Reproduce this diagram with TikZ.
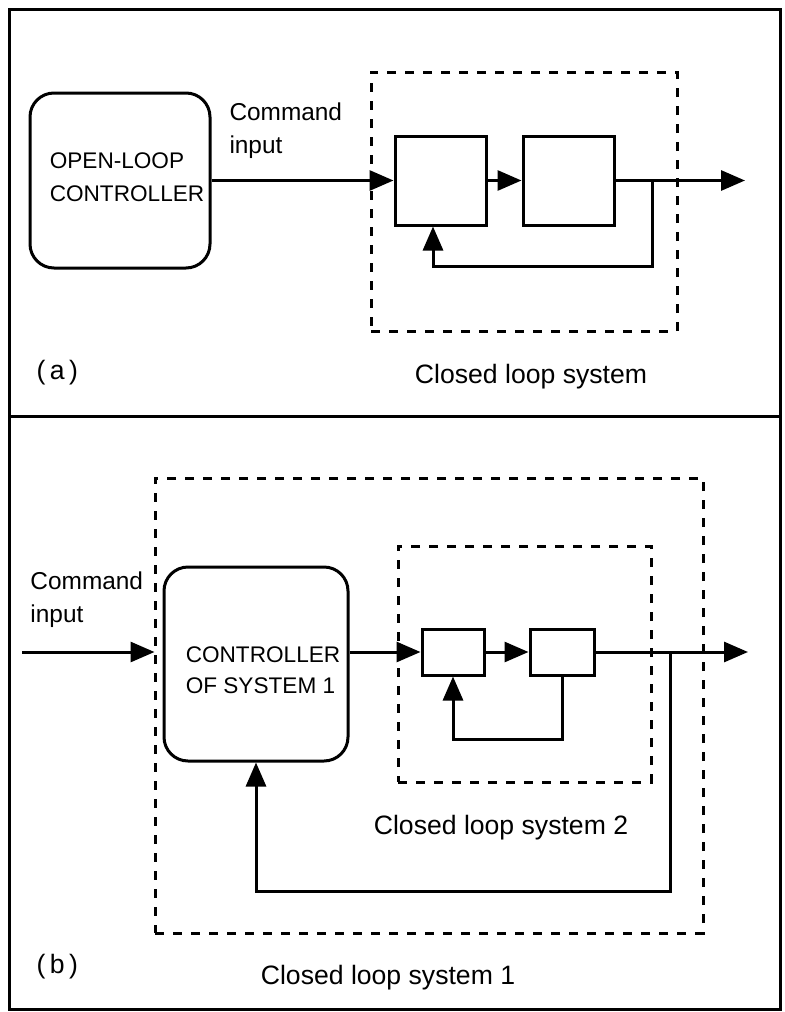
\documentclass[tikz,border=0pt]{standalone}
\usepackage{fontspec}
\setmainfont{Liberation Sans}
\usetikzlibrary{arrows.meta,positioning,calc}

\begin{document}
\begin{tikzpicture}[x=0.5pt,y=-0.5pt,
    line width=1.5pt,
    arr/.style={-{Triangle[length=12pt,width=10pt]}},
    ctrlbox/.style={draw,rounded corners=12pt,inner sep=0pt,align=left,font=\fontsize{11.3}{15.5}\selectfont},
    blk/.style={draw,inner sep=0pt},
    dashbox/.style={draw,line width=1.5pt,dash pattern=on 4.5pt off 4.5pt,inner sep=0pt},
    lbl/.style={inner sep=0pt,align=left,font=\fontsize{12.2}{16.5}\selectfont},
    captxt/.style={inner sep=0pt,font=\fontsize{13.3}{15}\selectfont}]
    \useasboundingbox (0,0) rectangle (784,1012);
    \draw (9,9) rectangle (780,1009);
    \draw (9,416) -- (780,416);

    % (a) open loop controller feeding a closed loop system
    \node[dashbox,minimum width=153pt,minimum height=129.5pt] (clsA) at (524,201.5) {};
    \node[ctrlbox,minimum width=90pt,minimum height=87.5pt] (olc) at (120,180.5) {};
    \node[inner sep=0pt,align=left,font=\fontsize{11.3}{16.5}\selectfont] (olctxt) at (127,177) {OPEN-LOOP\\CONTROLLER};
    \node[blk,minimum width=45.5pt,minimum height=44.5pt] (blkA1) at (440.5,180.5) {};
    \node[blk,minimum width=45.5pt,minimum height=44.5pt] (blkA2) at (568.5,180.5) {};
    \coordinate (outA) at (745,180.5);
    \coordinate (brA) at (652,180.5);
    \coordinate (fbA) at (433,266);

    \draw[arr] (olc.east) -- (blkA1.west);
    \draw[arr] (blkA1) -- (blkA2);
    \draw[arr] (blkA2.east) -- (outA);
    \draw[arr] (brA) |- (fbA) -- (fbA |- blkA1.south);

    \node[lbl,anchor=west] (cmdA) at (228,131) {Command\\input};
    \node[captxt,anchor=west] (tagA) at (35,373) {(\,a\,)};
    \node[captxt] (capA) at (531,377) {Closed loop system};

    % (b) controller inside a closed loop round a closed loop system
    \node[dashbox,minimum width=274pt,minimum height=227.5pt] (clsB1) at (429,705.5) {};
    \node[dashbox,minimum width=126.5pt,minimum height=118pt] (clsB2) at (524.5,664) {};
    \node[ctrlbox,minimum width=92pt,minimum height=97pt] (ctrl) at (256,664) {};
    \node[inner sep=0pt,align=left,font=\fontsize{11.3}{15.5}\selectfont] (ctrltxt) at (263,670) {CONTROLLER\\OF SYSTEM 1};
    \node[blk,minimum width=31pt,minimum height=23pt] (blkB1) at (453,652) {};
    \node[blk,minimum width=32pt,minimum height=23pt] (blkB2) at (562,652) {};
    \coordinate (inB) at (22,652);
    \coordinate (outB) at (748,652);
    \coordinate (brB) at (670,652);
    \coordinate (fbB1) at (453,739);
    \coordinate (fbB2) at (256,891);

    \draw[arr,shorten >=4pt] (inB) -- (inB -| ctrl.west);
    \draw[arr] (blkB1 -| ctrl.east) -- (blkB1.west);
    \draw[arr] (blkB1) -- (blkB2);
    \draw[arr] (blkB2.east) -- (outB);
    \draw[arr] (blkB2.south) |- (fbB1) -- (blkB1.south);
    \draw[arr] (brB) |- (fbB2) -- (ctrl.south);

    \node[lbl,anchor=west] (cmdB) at (29,600) {Command\\input};
    \node[captxt] (capB2) at (501,828) {Closed loop system 2};
    \node[captxt,anchor=west] (tagB) at (35,967) {(\,b\,)};
    \node[captxt] (capB1) at (388,978) {Closed loop system 1};
\end{tikzpicture}
\end{document}
